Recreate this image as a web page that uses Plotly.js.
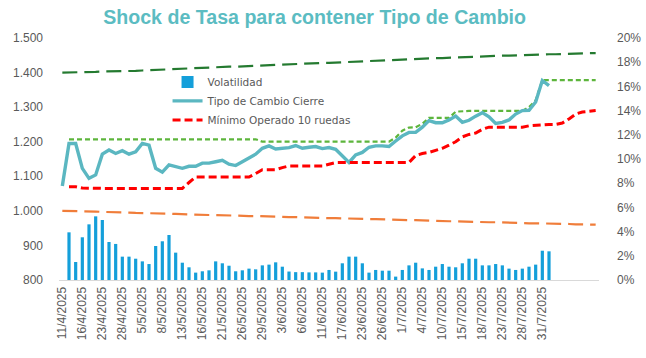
<!DOCTYPE html>
<html><head><meta charset="utf-8">
<script src="https://cdn.plot.ly/plotly-3.0.1.min.js"></script>
<style>html,body{margin:0;padding:0;background:#fff}#chart{width:646px;height:358px}</style>
</head><body><div id="chart"></div>
<script>
const dates = ["11/4/2025","14/4/2025","15/4/2025","16/4/2025","21/4/2025","22/4/2025","23/4/2025","24/4/2025","25/4/2025","28/4/2025",
"29/4/2025","30/4/2025","5/5/2025","6/5/2025","7/5/2025","8/5/2025","9/5/2025","12/5/2025","13/5/2025","14/5/2025",
"15/5/2025","16/5/2025","19/5/2025","20/5/2025","21/5/2025","22/5/2025","23/5/2025","26/5/2025","27/5/2025","28/5/2025",
"29/5/2025","30/5/2025","2/6/2025","3/6/2025","4/6/2025","5/6/2025","6/6/2025","9/6/2025","10/6/2025","11/6/2025",
"12/6/2025","13/6/2025","17/6/2025","18/6/2025","19/6/2025","23/6/2025","24/6/2025","25/6/2025","26/6/2025","27/6/2025",
"30/6/2025","1/7/2025","2/7/2025","3/7/2025","4/7/2025","7/7/2025","8/7/2025","10/7/2025","11/7/2025","14/7/2025",
"15/7/2025","16/7/2025","17/7/2025","18/7/2025","21/7/2025","22/7/2025","23/7/2025","24/7/2025","25/7/2025","28/7/2025",
"29/7/2025","30/7/2025","31/7/2025","1/8/2025","4/8/2025","5/8/2025","6/8/2025","7/8/2025","8/8/2025","11/8/2025","12/8/2025"];

// Volatilidad (%), right axis
const volatilidad = [null,3.94,1.49,3.53,4.60,5.26,4.96,3.14,2.98,1.93,
1.93,1.76,1.54,1.32,2.81,3.20,3.72,2.26,1.43,1.05,
0.61,0.72,0.80,1.54,1.38,1.18,0.72,0.80,0.94,0.88,
1.21,1.27,1.46,1.10,0.70,0.65,0.65,0.63,0.63,0.61,
0.83,0.69,1.38,1.93,1.93,1.38,0.61,0.83,0.77,0.77,
0.28,0.83,1.21,1.43,0.96,0.83,1.10,1.32,1.10,1.05,
1.38,1.76,1.76,1.21,1.21,1.32,1.21,0.94,0.83,0.94,
1.10,1.27,2.42,2.37];

// Tipo de Cambio Cierre
const tipoCambio = [1072,1195,1195,1123,1094,1104,1164,1176,1166,1174,
1164,1171,1195,1190,1123,1112,1133,1129,1123,1129,
1129,1138,1138,1142,1146,1135,1131,1142,1154,1164,
1181,1188,1179,1181,1183,1189,1181,1184,1186,1180,
1183,1178,1160,1140,1162,1169,1184,1188,1188,1186,
1202,1217,1227,1227,1242,1261,1255,1255,1263,1274,
1256,1262,1274,1284,1272,1253,1256,1263,1280,1290,
1291,1315,1377,1362];

// Mínimo Operado 10 ruedas
const minimo = [null,1070,1070,1066,1065,1065,1065,1065,1065,1065,
1065,1065,1065,1065,1065,1065,1065,1065,1065,1082,
1098,1098,1098,1098,1098,1098,1098,1098,1098,1108,
1119,1119,1119,1125,1130,1130,1130,1130,1130,1130,
1135,1140,1140,1140,1140,1140,1140,1140,1140,1140,
1140,1140,1140,1160,1166,1169,1175,1181,1190,1200,
1214,1221,1225,1236,1242,1242,1242,1242,1242,1242,
1246,1248,1249,1250,1250,1254,1266,1280,1286,1289,1290];

// Máximo (green dashed)
const maximo = [null,1207,1207,1207,1207,1207,1207,1207,1207,1207,
1207,1207,1207,1207,1207,1207,1207,1207,1207,1207,
1207,1207,1207,1207,1207,1207,1207,1207,1207,1207,
1200,1200,1200,1200,1200,1200,1200,1200,1200,1200,
1200,1200,1200,1200,1200,1200,1200,1200,1200,1200,
1212,1232,1241,1242,1252,1269,1269,1269,1269,1287,
1289,1289,1289,1289,1289,1289,1289,1289,1289,1289,
1300,1320,1378,1378,1378,1378,1378,1378,1378,1378,1378];

// Banda superior
const bandaSup = [1400,1400,1401,1401,1402,1402,1403,1403,1404,1404,
1405,1405,1406,1407,1407,1408,1409,1410,1411,1412,
1413,1414,1414,1415,1416,1417,1417,1418,1419,1419,
1420,1421,1422,1423,1424,1424,1425,1426,1427,1428,
1428,1429,1430,1431,1432,1432,1433,1434,1435,1436,
1437,1437,1438,1439,1440,1441,1442,1442,1443,1444,
1444,1445,1446,1447,1447,1448,1449,1449,1450,1451,
1451,1452,1452,1453,1453,1454,1454,1455,1455,1456,1456];

// Banda inferior
const bandaInf = [1000,1000,999,999,998,998,997,997,996,995,
995,994,994,993,993,992,992,991,990,990,
989,989,988,988,987,987,986,986,985,985,
984,984,983,983,982,982,981,981,980,980,
979,979,978,978,977,977,976,976,975,975,
974,974,973,973,972,972,971,971,970,970,
969,969,968,968,967,967,966,966,965,965,
964,964,964,963,963,962,962,961,961,961,960];

const lastLabeled = 72;
const tickVals = dates.filter((d, i) => i % 3 === 0 && i <= lastLabeled);

const tickFont = {family: 'Liberation Sans, Arial, sans-serif', size: 12, color: '#595959'};

const traces = [
  {type: 'bar', name: 'Volatilidad', x: dates, y: volatilidad, yaxis: 'y',
   marker: {color: '#149FDA', line: {width: 0}}, hoverinfo: 'skip'},
  {type: 'scatter', mode: 'lines', name: 'bandaSup', x: dates, y: bandaSup, yaxis: 'y2', showlegend: false,
   line: {color: '#247A30', width: 2.2, dash: '15px,7px'}},
  {type: 'scatter', mode: 'lines', name: 'bandaInf', x: dates, y: bandaInf, yaxis: 'y2', showlegend: false,
   line: {color: '#F07D3A', width: 2.2, dash: '15px,7px'}},
  {type: 'scatter', mode: 'lines', name: 'maximo', x: dates, y: maximo, yaxis: 'y2', showlegend: false,
   line: {color: '#5DB53C', width: 2.2, dash: '5px,3px'}},
  {type: 'scatter', mode: 'lines', name: 'Tipo de Cambio Cierre', x: dates, y: tipoCambio, yaxis: 'y2',
   line: {color: '#5BB7C1', width: 3.4}},
  {type: 'scatter', mode: 'lines', name: 'Mínimo Operado 10 ruedas', x: dates, y: minimo, yaxis: 'y2',
   line: {color: '#FF0000', width: 3, dash: '8px,4px'}}
];

const layout = {
  width: 646, height: 358,
  margin: {l: 59, r: 47, t: 38, b: 78},
  paper_bgcolor: '#fff', plot_bgcolor: 'rgba(0,0,0,0)',
  separators: ',.',
  bargap: 0.52,
  showlegend: true,
  title: {text: 'Shock de Tasa para contener Tipo de Cambio',
    font: {family: 'Liberation Sans, Arial, sans-serif', size: 19.6, color: '#5BBCC2', weight: 'bold'},
    x: 0.487, xref: 'container', xanchor: 'center', y: 0.953, yref: 'container', yanchor: 'middle'},
  legend: {x: 0.201, xanchor: 'left', y: 0.74, yanchor: 'middle', bgcolor: 'rgba(255,255,255,0)',
    font: {family: 'DejaVu Sans, sans-serif', size: 10.5, color: '#595959'}, traceorder: 'normal'},
  xaxis: {type: 'category', categoryorder: 'array', categoryarray: dates, range: [-0.5, dates.length - 0.5],
    tickmode: 'array', tickvals: tickVals, ticktext: tickVals, tickangle: -90,
    tickfont: tickFont, showline: true, linecolor: '#D9D9D9', linewidth: 1, ticks: '',
    showgrid: false, zeroline: false, fixedrange: true, ticklabelstandoff: 1},
  yaxis: {side: 'right', range: [0, 20], dtick: 2, ticksuffix: '%', tickfont: tickFont,
    showgrid: false, zeroline: false, showline: false, ticks: '', ticklabelstandoff: 17},
  yaxis2: {overlaying: 'y', side: 'left', range: [800, 1500], dtick: 100, tickformat: ',d',
    tickfont: tickFont, showgrid: false, zeroline: false, showline: false, ticks: '', ticklabelstandoff: 15}
};

Plotly.newPlot('chart', traces, layout, {staticPlot: true, displayModeBar: false});
</script>
</body></html>
